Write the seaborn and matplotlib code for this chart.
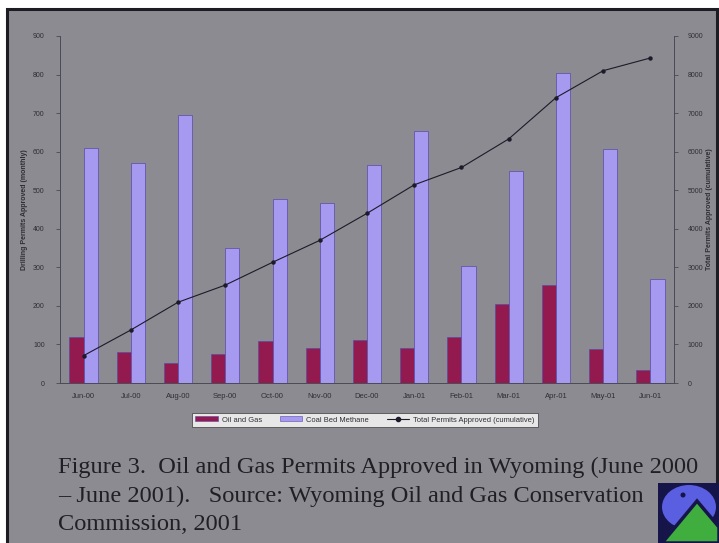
import matplotlib
matplotlib.use("Agg")
import matplotlib.pyplot as plt
from matplotlib.patches import Rectangle, Polygon, Ellipse, Patch
from matplotlib.lines import Line2D
import seaborn as sns
import pandas as pd
import numpy as np

# Monthly permits approved, June 2000 - June 2001
months = ["Jun-00", "Jul-00", "Aug-00", "Sep-00", "Oct-00", "Nov-00", "Dec-00",
          "Jan-01", "Feb-01", "Mar-01", "Apr-01", "May-01", "Jun-01"]
oil_gas = [120, 81, 51, 75, 108, 90, 112, 90, 120, 204, 255, 89, 35]
coal_bed_methane = [610, 570, 696, 349, 477, 467, 565, 654, 304, 551, 804, 607, 270]
cumulative_total = [710, 1375, 2095, 2540, 3130, 3700, 4400, 5140, 5590, 6330, 7400, 8100, 8430]

left_ticks = [0, 100, 200, 300, 400, 500, 600, 700, 800, 900]
right_ticks = [0, 1000, 2000, 3000, 4000, 5000, 6000, 7000, 8000, 9000]

series_names = ["Oil and Gas", "Coal Bed Methane"]
line_name = "Total Permits Approved (cumulative)"
caption = ("Figure 3.  Oil and Gas Permits Approved in Wyoming (June 2000\n"
           "\u2013 June 2001).   Source: Wyoming Oil and Gas Conservation\n"
           "Commission, 2001")

maroon = "#931a4f"
lavender = "#a59af0"
bg_gray = "#8c8b91"
tick_col = "#2e2e34"

df = pd.DataFrame({
    "month": months * 2,
    "permits": oil_gas + coal_bed_methane,
    "type": [series_names[0]] * len(months) + [series_names[1]] * len(months),
})

sns.set_style("white")
plt.rcParams["font.family"] = ["Liberation Sans", "DejaVu Sans"]

W, H = 719, 543
fig = plt.figure(figsize=(W / 100, H / 100), dpi=100)
fig.patch.set_facecolor("white")

# Slide panel with dark border, kept behind the axes
panel = Rectangle((7 / W, -0.01), 710 / W, 1 - 9 / H + 0.01,
                  transform=fig.transFigure, facecolor=bg_gray,
                  edgecolor="#1c1c22", linewidth=2.2, zorder=-10)
fig.patches.append(panel)

ax_w = 614
ax = fig.add_axes([60 / W, 1 - 383 / H, ax_w / W, 347 / H])
ax.set_facecolor("none")

sns.barplot(data=df, x="month", y="permits", hue="type",
            palette=[maroon, lavender], width=0.6, saturation=1,
            edgecolor="#5a4aa8", linewidth=0.5, legend=False, ax=ax)

ax.set_xlim(-0.5, len(months) - 0.5)
ax.set_ylim(0, 900)
ax.set_yticks(left_ticks)
ax.set_yticklabels([str(t) for t in left_ticks])
ax.set_xlabel("")
ax.set_ylabel("Drilling Permits Approved (monthly)", fontsize=5, fontweight="bold",
              color=tick_col)
ax.yaxis.set_label_coords((28 - 60) / ax_w, 0.5)
for s in ["top", "right"]:
    ax.spines[s].set_visible(False)
for s in ["left", "bottom"]:
    ax.spines[s].set_color("#4a4a55")
    ax.spines[s].set_linewidth(0.7)
ax.tick_params(axis="y", direction="out", length=3, width=0.6, colors="#4a4a55",
               labelcolor=tick_col, labelsize=5, pad=8)
ax.tick_params(axis="x", which="major", length=0, labelsize=5.5,
               labelcolor=tick_col, pad=7)
ax.set_xticks(np.arange(-0.5, len(months)), minor=True)
ax.tick_params(axis="x", which="minor", direction="inout", length=4, width=0.6,
               colors="#4a4a55")

ax2 = ax.twinx()
ax2.set_facecolor("none")
sns.lineplot(x=np.arange(len(months)), y=cumulative_total, ax=ax2, color="#1b1b2a",
             linewidth=0.8, marker="o", markersize=3.2, markeredgewidth=0)
ax2.set_ylim(0, 9000)
ax2.set_yticks(right_ticks)
ax2.set_yticklabels([str(t) for t in right_ticks])
ax2.set_ylabel(line_name, fontsize=5, fontweight="bold", color=tick_col,
               rotation=90)
ax2.yaxis.set_label_coords((706 - 60) / ax_w, 0.5)
for s in ["top", "left", "bottom"]:
    ax2.spines[s].set_visible(False)
ax2.spines["right"].set_color("#4a4a55")
ax2.spines["right"].set_linewidth(0.7)
ax2.tick_params(axis="y", direction="out", length=3, width=0.6, colors="#4a4a55",
                labelcolor=tick_col, labelsize=5, pad=7)

handles = [Patch(facecolor=maroon, edgecolor="#5a4aa8", linewidth=0.4),
           Patch(facecolor=lavender, edgecolor="#5a4aa8", linewidth=0.4),
           Line2D([0], [0], color="#1b1b2a", lw=0.8, marker="o", markersize=3)]
leg = fig.legend(handles, series_names + [line_name], loc="center",
                 bbox_to_anchor=(365 / W, 1 - 420 / H), ncol=3, fontsize=5.4,
                 frameon=True, fancybox=False, facecolor="white",
                 edgecolor="#333333", handlelength=3, handleheight=0.6,
                 columnspacing=2.4, borderpad=0.5, handletextpad=0.5)
leg.get_frame().set_linewidth(0.6)
for t in leg.get_texts():
    t.set_color(tick_col)

fig.text(58 / W, 1 - 457 / H, caption, fontsize=17.6, family="Liberation Serif",
         color="#1f1f24", va="top", ha="left", linespacing=1.46)

# Small emblem in the lower-right corner
fig.patches.append(Rectangle((658 / W, 0), 61 / W, 60 / H, transform=fig.transFigure,
                             facecolor="#15154a", edgecolor="none", zorder=3))
fig.patches.append(Ellipse((689 / W, 1 - 507 / H), 54 / W, 44 / H,
                           transform=fig.transFigure, facecolor="#5a5ee0",
                           edgecolor="none", zorder=4))
fig.patches.append(Ellipse((683 / W, 1 - 495 / H), 5 / W, 5 / H,
                           transform=fig.transFigure, facecolor="#15154a",
                           edgecolor="none", zorder=5))
fig.patches.append(Polygon([(662 / W, 0), (697 / W, 1 - 501 / H), (719 / W, 1 - 527 / H),
                            (719 / W, 0)], closed=True, transform=fig.transFigure,
                           facecolor="#3fae3f", edgecolor="#15154a", linewidth=2.5,
                           zorder=5))

fig.savefig("out.png", dpi=100, facecolor=fig.get_facecolor())
